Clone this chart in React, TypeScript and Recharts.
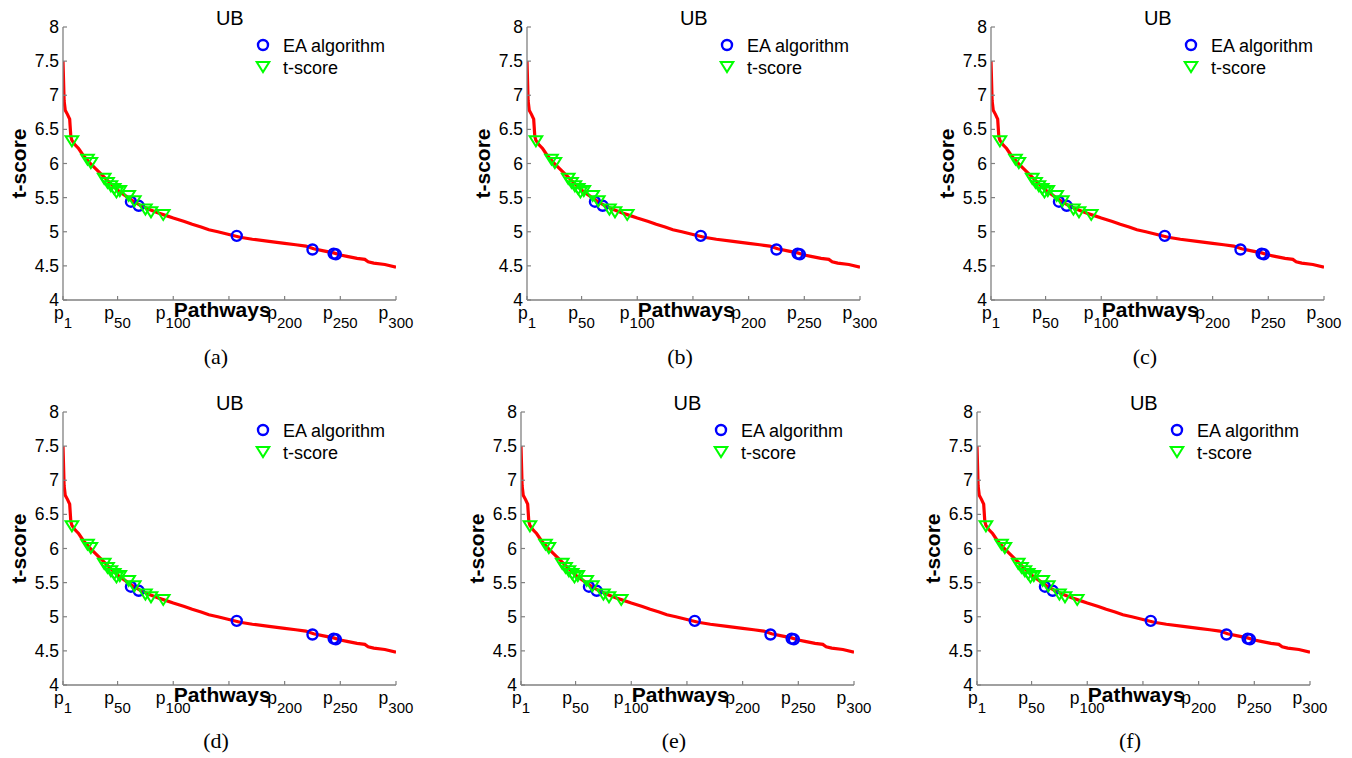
import React from 'react';
import { ComposedChart, Line, Scatter, XAxis, YAxis, Legend } from 'recharts';

// red curve: sorted t-score of the pathways
const curveRank = [1, 2, 3, 5, 7, 8, 9, 12, 15, 20, 25, 30, 38, 44, 50, 56, 63, 70, 78, 86, 93, 100, 110, 117, 125, 132, 140, 150, 160, 171, 186, 200, 210, 219, 226, 235, 244, 250, 256, 265, 272, 275, 280, 290, 300];
const curveScore = [7.5, 6.92, 6.78, 6.72, 6.65, 6.4, 6.34, 6.27, 6.22, 6.1, 6.01, 5.93, 5.8, 5.7, 5.61, 5.54, 5.46, 5.39, 5.33, 5.28, 5.24, 5.2, 5.15, 5.11, 5.07, 5.03, 5.0, 4.96, 4.92, 4.89, 4.86, 4.83, 4.81, 4.79, 4.75, 4.72, 4.69, 4.66, 4.64, 4.61, 4.595, 4.56, 4.54, 4.52, 4.48];

// EA algorithm picks (blue circles)
const eaRank = [62, 69, 157, 225, 244, 246];
const eaScore = [5.44, 5.38, 4.94, 4.74, 4.68, 4.67];

// t-score picks (green triangles)
const tsRank = [9, 23, 26, 38, 41, 44, 47, 49, 52, 60, 65, 75, 80, 91];
const tsScore = [6.33, 6.06, 6.01, 5.78, 5.72, 5.67, 5.63, 5.58, 5.6, 5.53, 5.45, 5.33, 5.29, 5.25];

const xTicks = [1, 50, 100, 150, 200, 250, 300];
const xTickSubs = ['1', '50', '100', '', '200', '250', '300'];
const yTicks = [4, 4.5, 5, 5.5, 6, 6.5, 7, 7.5, 8];
const yTickLabels = ['4', '4.5', '5', '5.5', '6', '6.5', '7', '7.5', '8'];

const panels = [
  { tag: '(a)', left: 63.3, top: 27, cap: 216, capY: 364 },
  { tag: '(b)', left: 527.3, top: 27, cap: 680, capY: 364 },
  { tag: '(c)', left: 991.3, top: 27, cap: 1145, capY: 364 },
  { tag: '(d)', left: 63.3, top: 411.7, cap: 216, capY: 748 },
  { tag: '(e)', left: 521, top: 411.7, cap: 674, capY: 748 },
  { tag: '(f)', left: 977.3, top: 411.7, cap: 1130, capY: 748 },
];

const curveData = curveRank.map((x, i) => ({ x, y: curveScore[i] }));
const eaData = eaRank.map((x, i) => ({ x, y: eaScore[i] }));
const tsData = tsRank.map((x, i) => ({ x, y: tsScore[i] }));

const FONT = '"Liberation Sans", Arial, Helvetica, sans-serif';
const AXIS = '#808080';
const TICK = 4;

const BottomTick = (props: any) => {
  const { x, y, payload } = props;
  const idx = xTicks.indexOf(payload.value);
  const sub = xTickSubs[idx];
  return (
    <g>
      <line x1={x} y1={y} x2={x} y2={y - TICK} stroke={AXIS} strokeWidth={1.2} />
      {sub !== '' && (
        <text x={x} y={y + 19} textAnchor="middle" fontSize={17.5} fontFamily={FONT} fill="#000">
          p<tspan dy={9} fontSize={15}>{sub}</tspan>
        </text>
      )}
    </g>
  );
};

const TopTick = (props: any) => {
  const { x, y } = props;
  return <line x1={x} y1={y} x2={x} y2={y + TICK} stroke={AXIS} strokeWidth={1.2} />;
};

const LeftTick = (props: any) => {
  const { x, y, payload } = props;
  const idx = yTicks.indexOf(payload.value);
  return (
    <g>
      <line x1={x} y1={y} x2={x + TICK} y2={y} stroke={AXIS} strokeWidth={1.2} />
      <text x={x - 4} y={y + 6} textAnchor="end" fontSize={17.5} fontFamily={FONT} fill="#000">
        {yTickLabels[idx]}
      </text>
    </g>
  );
};

const RightTick = (props: any) => {
  const { x, y } = props;
  return <line x1={x} y1={y} x2={x - TICK} y2={y} stroke={AXIS} strokeWidth={1.2} />;
};

const CircleMark = (props: any) => (
  <circle cx={props.cx} cy={props.cy} r={5} fill="none" stroke="#0000ff" strokeWidth={2.4} />
);

const TriMark = (props: any) => {
  const { cx, cy } = props;
  return (
    <polygon
      points={`${cx - 6.3},${cy - 4.7} ${cx + 6.3},${cy - 4.7} ${cx},${cy + 5.3}`}
      fill="none"
      stroke="#00ff00"
      strokeWidth={2}
    />
  );
};

const LegendBox = () => (
  <svg width={150} height={50} style={{ display: 'block', overflow: 'visible' }}>
    <circle cx={10} cy={13} r={5} fill="none" stroke="#0000ff" strokeWidth={2.4} />
    <text x={30} y={19.5} fontSize={18} fontFamily={FONT} fill="#000">EA algorithm</text>
    <polygon points="3.7,30 16.3,30 10,40" fill="none" stroke="#00ff00" strokeWidth={2} />
    <text x={30} y={41.5} fontSize={18} fontFamily={FONT} fill="#000">t-score</text>
  </svg>
);

const Panel: React.FC<{ left: number; top: number }> = ({ left, top }) => (
  <div style={{ position: 'absolute', left: left - 63, top: top - 27, width: 420, height: 360 }}>
    <ComposedChart width={420} height={360} margin={{ top: 27, right: 24, bottom: 20, left: 3 }}>
      <XAxis
        xAxisId="b"
        type="number"
        dataKey="x"
        domain={[1, 300]}
        ticks={xTicks}
        interval={0}
        allowDataOverflow
        height={40}
        tickSize={0}
        tickMargin={0}
        tickLine={false}
        axisLine={{ stroke: AXIS, strokeWidth: 1.3 }}
        tick={<BottomTick />}
        label={{
          content: (p: any) => {
            const vb = p.viewBox;
            return (
              <text x={vb.x + vb.width * 0.478} y={vb.y + 17} textAnchor="middle" fontSize={21} fontWeight="bold" fontFamily={FONT} fill="#000">
                Pathways
              </text>
            );
          },
        }}
      />
      <XAxis
        xAxisId="t"
        orientation="top"
        type="number"
        dataKey="x"
        domain={[1, 300]}
        ticks={xTicks}
        interval={0}
        allowDataOverflow
        height={0}
        tickSize={0}
        tickMargin={0}
        tickLine={false}
        axisLine={{ stroke: AXIS, strokeWidth: 1.3 }}
        tick={<TopTick />}
      />
      <YAxis
        yAxisId="l"
        type="number"
        domain={[4, 8]}
        ticks={yTicks}
        interval={0}
        allowDataOverflow
        width={60}
        tickSize={0}
        tickMargin={0}
        tickLine={false}
        axisLine={{ stroke: AXIS, strokeWidth: 1.3 }}
        tick={<LeftTick />}
        label={{
          content: (p: any) => {
            const vb = p.viewBox;
            const lx = vb.x + vb.width - 36.8;
            const ly = vb.y + vb.height / 2;
            return (
              <text x={lx} y={ly} transform={`rotate(-90 ${lx} ${ly})`} textAnchor="middle" fontSize={21} fontWeight="bold" fontFamily={FONT} fill="#000">
                t-score
              </text>
            );
          },
        }}
      />
      <YAxis
        yAxisId="r"
        orientation="right"
        type="number"
        domain={[4, 8]}
        ticks={yTicks}
        interval={0}
        allowDataOverflow
        width={0}
        tickSize={0}
        tickMargin={0}
        tickLine={false}
        axisLine={{ stroke: AXIS, strokeWidth: 1.3 }}
        tick={<RightTick />}
      />
      <Line
        xAxisId="b"
        yAxisId="l"
        data={curveData}
        dataKey="y"
        type="linear"
        stroke="#ff0000"
        strokeWidth={3.2}
        dot={false}
        activeDot={false}
        isAnimationActive={false}
        legendType="none"
      />
      <Scatter xAxisId="b" yAxisId="l" data={eaData} dataKey="y" shape={<CircleMark />} isAnimationActive={false} />
      <Scatter xAxisId="b" yAxisId="l" data={tsData} dataKey="y" shape={<TriMark />} isAnimationActive={false} />
      <Legend
        layout="vertical"
        align="center"
        verticalAlign="middle"
        content={<LegendBox />}
        wrapperStyle={{ left: 253, top: 32, width: 150, height: 50 }}
      />
    </ComposedChart>
    <div
      style={{
        position: 'absolute',
        left: 63,
        top: 27 - 19,
        width: 333,
        textAlign: 'center',
        fontFamily: FONT,
        fontSize: 20,
        lineHeight: '20px',
        color: '#000',
        pointerEvents: 'none',
      }}
    >
      UB
    </div>
  </div>
);

export default function App() {
  return (
    <div style={{ position: 'absolute', left: 0, top: 0, width: 1352, height: 758, background: '#fff', overflow: 'hidden' }}>
      {panels.map((p) => (
        <React.Fragment key={p.tag}>
          <Panel left={p.left} top={p.top} />
          <div
            style={{
              position: 'absolute',
              left: p.cap - 40,
              top: p.capY - 18,
              width: 80,
              textAlign: 'center',
              fontFamily: '"Liberation Serif", "Times New Roman", serif',
              fontSize: 22,
              lineHeight: '22px',
              color: '#000',
            }}
          >
            {p.tag}
          </div>
        </React.Fragment>
      ))}
    </div>
  );
}
